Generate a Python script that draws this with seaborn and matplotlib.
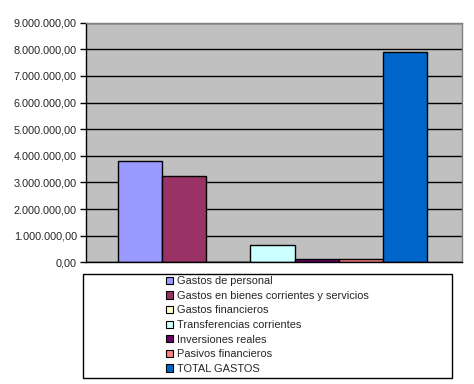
import matplotlib
matplotlib.use("Agg")
import matplotlib.pyplot as plt
import seaborn as sns
from matplotlib.patches import Patch, Rectangle
from matplotlib.ticker import FuncFormatter

categories = ["Gastos de personal",
              "Gastos en bienes corrientes y servicios",
              "Gastos financieros",
              "Transferencias corrientes",
              "Inversiones reales",
              "Pasivos financieros",
              "TOTAL GASTOS"]
values = [3800000, 3230000, 0, 640000, 110000, 110000, 7890000]
colors = ["#9999FF", "#993366", "#FFFFCC", "#CCFFFF", "#660066", "#FF8080", "#0066CC"]
yticks = [0, 1000000, 2000000, 3000000, 4000000, 5000000, 6000000, 7000000, 8000000, 9000000]

sns.set_style("white")
plt.rcParams['font.family'] = ['Liberation Sans', 'DejaVu Sans']

fig = plt.figure(figsize=(4.74, 3.84), dpi=100)
ax = fig.add_axes([86/474, 1-262.3/384, 376/474, (262.3-22.7)/384])
ax.set_facecolor("#C0C0C0")

sns.barplot(x=categories, y=values, hue=categories, palette=colors, width=1,
            edgecolor="black", linewidth=1, legend=False, ax=ax, saturation=1)

ax.set_xlim(-1.225, 7.293)
ax.set_ylim(0, 9000000)
ax.set_yticks(yticks)
ax.yaxis.set_major_formatter(FuncFormatter(
    lambda v, p: f"{v:,.2f}".replace(",", "X").replace(".", ",").replace("X", ".")))
ax.set_xticks([])
ax.set_xlabel("")
ax.set_ylabel("")
ax.yaxis.grid(True, color="black", linewidth=1)
ax.set_axisbelow(True)
ax.tick_params(axis="y", direction="out", length=4, width=1, color="black",
               labelsize=7.8, pad=2.5, left=True)

for s in ["left", "bottom"]:
    ax.spines[s].set_color("black")
    ax.spines[s].set_linewidth(1)
for s in ["top", "right"]:
    ax.spines[s].set_color("#808080")
    ax.spines[s].set_linewidth(1)

# legend box drawn separately, entries indented inside it
fig.patches.append(Rectangle((83/474, 1-378/384), (452-83)/474, (378-274)/384,
                             transform=fig.transFigure, fill=False,
                             edgecolor="black", linewidth=1))
handles = [Patch(facecolor=c, edgecolor="black", linewidth=0.8, label=l)
           for c, l in zip(colors, categories)]
fig.legend(handles=handles, loc="upper left", bbox_to_anchor=(164/474, 1-274/384),
           frameon=False, fontsize=7.9, handlelength=0.65, handleheight=0.65,
           handletextpad=0.35, labelspacing=0.42, borderaxespad=0, borderpad=0.2)

plt.savefig("out.png", dpi=100)
